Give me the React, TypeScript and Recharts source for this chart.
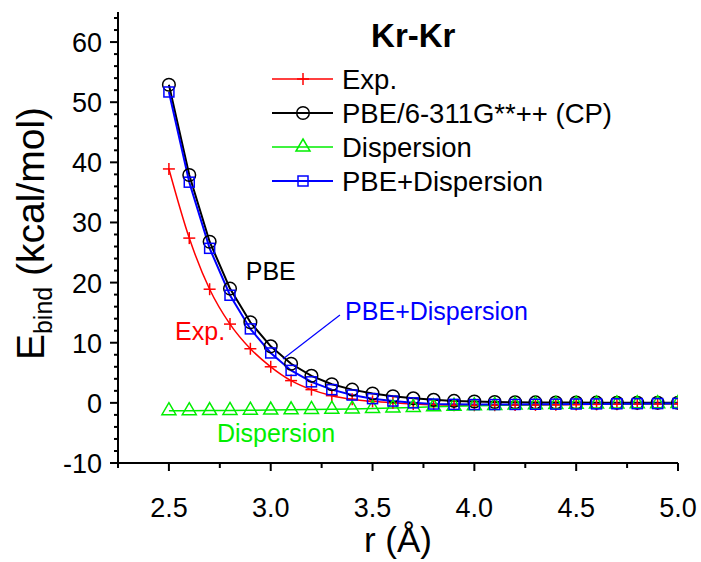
import React from "react";
import { LineChart, Line, XAxis, YAxis, ReferenceDot, ReferenceLine, Legend } from "recharts";

const FONT = "'Liberation Sans', Arial, Helvetica, sans-serif";

// r in Angstrom
const rValues = [2.5, 2.6, 2.7, 2.8, 2.9, 3.0, 3.1, 3.2, 3.3, 3.4, 3.5, 3.6, 3.7, 3.8, 3.9, 4.0, 4.1, 4.2, 4.3, 4.4, 4.5, 4.6, 4.7, 4.8, 4.9, 5.0];

// binding energies, kcal/mol
const expE = [38.9, 27.4, 18.9, 13.1, 9.0, 6.0, 3.7, 2.2, 1.2, 0.6, 0.25, 0.0, -0.2, -0.33, -0.39, -0.4, -0.39, -0.37, -0.34, -0.31, -0.28, -0.25, -0.22, -0.2, -0.18, -0.16];
const pbeE = [52.9, 37.9, 26.8, 19.0, 13.4, 9.4, 6.5, 4.5, 3.1, 2.2, 1.55, 1.1, 0.75, 0.5, 0.33, 0.22, 0.15, 0.1, 0.08, 0.06, 0.05, 0.04, 0.03, 0.03, 0.02, 0.02];
const dispE = [-1.3, -1.3, -1.28, -1.25, -1.22, -1.2, -1.15, -1.1, -1.05, -1.0, -0.92, -0.85, -0.75, -0.65, -0.55, -0.48, -0.42, -0.36, -0.31, -0.27, -0.23, -0.2, -0.17, -0.15, -0.13, -0.11];
const pbeDispE = [51.7, 36.7, 25.7, 17.9, 12.3, 8.3, 5.4, 3.5, 2.2, 1.3, 0.7, 0.3, 0.0, -0.2, -0.25, -0.28, -0.28, -0.26, -0.23, -0.21, -0.19, -0.17, -0.15, -0.13, -0.12, -0.1];

const xMajorTicks = [2.5, 3.0, 3.5, 4.0, 4.5, 5.0];
const xMinorTicks = [2.25, 2.75, 3.25, 3.75, 4.25, 4.75];
const yMajorTicks = [-10, 0, 10, 20, 30, 40, 50, 60];
const yMinorTicks = Array.from({ length: 38 }, (_, i) => -10 + 2 * i).filter((v) => v % 10 !== 0);

const data = rValues.map((r, i) => ({
  r,
  exp: expE[i],
  pbe: pbeE[i],
  disp: dispE[i],
  pbeDisp: pbeDispE[i],
}));

const series = [
  { key: "exp", name: "Exp.", color: "#ff0000", marker: "plus", width: 1.5, curve: "monotone" },
  { key: "pbe", name: "PBE/6-311G**++ (CP)", color: "#000000", marker: "circle", width: 2, curve: "linear" },
  { key: "disp", name: "Dispersion", color: "#00ee00", marker: "triangle", width: 1.5, curve: "linear" },
  { key: "pbeDisp", name: "PBE+Dispersion", color: "#0000ff", marker: "square", width: 2, curve: "linear" },
] as const;

// text annotations, in data units
const notes = [
  { x: 3.7, y: 59.2, text: "Kr-Kr", color: "#000", size: 33, bold: true },
  { x: 3.0, y: 20.4, text: "PBE", color: "#000", size: 25, bold: false },
  { x: 2.653, y: 10.45, text: "Exp.", color: "#ff0000", size: 25, bold: false },
  { x: 3.026, y: -6.5, text: "Dispersion", color: "#00ee00", size: 25, bold: false },
  { x: 3.814, y: 13.78, text: "PBE+Dispersion", color: "#0000ff", size: 25, bold: false },
];

function Marker({ kind, cx, cy, color }: { kind: string; cx: number; cy: number; color: string }) {
  if (kind === "plus") {
    return (
      <g stroke={color} strokeWidth={1.5}>
        <line x1={cx - 6} x2={cx + 6} y1={cy} y2={cy} />
        <line x1={cx} x2={cx} y1={cy - 6} y2={cy + 6} />
      </g>
    );
  }
  if (kind === "circle") {
    return <circle cx={cx} cy={cy} r={6.3} fill="none" stroke={color} strokeWidth={1.5} />;
  }
  if (kind === "triangle") {
    return (
      <path
        d={`M${cx},${cy - 8} L${cx + 7},${cy + 4} L${cx - 7},${cy + 4} Z`}
        fill="none"
        stroke={color}
        strokeWidth={1.5}
      />
    );
  }
  return <rect x={cx - 5} y={cy - 5} width={10} height={10} fill="none" stroke={color} strokeWidth={1.5} />;
}

function makeDot(kind: string, color: string) {
  return (props: any) => {
    const { cx, cy, index } = props;
    if (cx == null || cy == null) return <g key={`d-${kind}-${index}`} />;
    return (
      <g key={`d-${kind}-${index}`}>
        <Marker kind={kind} cx={cx} cy={cy} color={color} />
      </g>
    );
  };
}

function XTick({ x, y, payload }: any) {
  const major = xMajorTicks.includes(payload.value);
  return (
    <g>
      <line x1={x} x2={x} y1={y} y2={y + (major ? 8 : 5)} stroke="#000" strokeWidth={2} />
      {major && (
        <text x={x} y={y + 54} textAnchor="middle" fontSize={27} fontFamily={FONT} fill="#000">
          {payload.value.toFixed(1)}
        </text>
      )}
    </g>
  );
}

function YTick({ x, y, payload }: any) {
  const major = yMajorTicks.includes(payload.value);
  return (
    <g>
      <line x1={x - (major ? 8 : 4)} x2={x} y1={y} y2={y} stroke="#000" strokeWidth={2} />
      {major && (
        <text x={x - 16} y={y + 10} textAnchor="end" fontSize={27} fontFamily={FONT} fill="#000">
          {payload.value}
        </text>
      )}
    </g>
  );
}

function LegendBox() {
  const top = 60;
  const left = 262;
  return (
    <svg width={420} height={140} style={{ overflow: "visible" }}>
      {series.map((s, i) => {
        const cy = 79 + i * 34 - top;
        return (
          <g key={s.key}>
            <line x1={272 - left} x2={333 - left} y1={cy} y2={cy} stroke={s.color} strokeWidth={s.width} />
            <Marker kind={s.marker} cx={303 - left} cy={cy} color={s.color} />
            <text x={342 - left} y={cy + 10} fontSize={27.5} fontFamily={FONT} fill="#000">
              {s.name}
            </text>
          </g>
        );
      })}
    </svg>
  );
}

export default function App() {
  return (
    <div style={{ position: "absolute", left: 0, top: 0, width: 701, height: 562, background: "#fff" }}>
      <LineChart width={701} height={562} data={data} margin={{ top: 12, right: 23, bottom: 0, left: 0 }}>
        <XAxis
          dataKey="r"
          type="number"
          domain={[2.25, 5]}
          ticks={[...xMinorTicks, ...xMajorTicks].sort((a, b) => a - b)}
          interval={0}
          height={99}
          tickSize={0}
          tickMargin={0}
          tickLine={false}
          tick={<XTick />}
          axisLine={{ stroke: "#000", strokeWidth: 2 }}
          allowDataOverflow
          label={{
            content: ({ viewBox }: any) => (
              <text
                x={viewBox.x + viewBox.width / 2}
                y={viewBox.y + 89}
                textAnchor="middle"
                fontSize={35}
                fontFamily={FONT}
                fill="#000"
              >
                r (Å)
              </text>
            ),
          }}
        />
        <YAxis
          type="number"
          domain={[-10, 65]}
          ticks={[...yMinorTicks, ...yMajorTicks].sort((a, b) => a - b)}
          interval={0}
          width={118}
          tickSize={0}
          tickMargin={0}
          tickLine={false}
          tick={<YTick />}
          axisLine={{ stroke: "#000", strokeWidth: 2 }}
          allowDataOverflow
          label={{
            content: ({ viewBox }: any) => {
              const cx = 44;
              const cy = viewBox.y + viewBox.height / 2 - 4;
              return (
                <text
                  x={cx}
                  y={cy}
                  transform={`rotate(-90 ${cx} ${cy})`}
                  textAnchor="middle"
                  fontSize={39}
                  fontFamily={FONT}
                  fill="#000"
                >
                  E
                  <tspan fontSize={25} dy={8}>
                    bind
                  </tspan>
                  <tspan dy={-8}> (kcal/mol)</tspan>
                </text>
              );
            },
          }}
        />
        {series.map((s) => (
          <Line
            key={s.key}
            dataKey={s.key}
            name={s.name}
            type={s.curve}
            stroke={s.color}
            strokeWidth={s.width}
            dot={makeDot(s.marker, s.color)}
            activeDot={false}
            isAnimationActive={false}
          />
        ))}
        <ReferenceLine
          segment={[
            { x: 3.34, y: 14.6 },
            { x: 3.06, y: 7.3 },
          ]}
          stroke="#0000ff"
          strokeWidth={1.2}
        />
        {notes.map((n) => (
          <ReferenceDot
            key={n.text}
            x={n.x}
            y={n.y}
            r={0}
            fill="none"
            stroke="none"
            label={{
              content: ({ viewBox }: any) => (
                <text
                  x={viewBox.x + (viewBox.width || 0) / 2}
                  y={viewBox.y + (viewBox.height || 0) / 2}
                  textAnchor="middle"
                  fontSize={n.size}
                  fontWeight={n.bold ? "bold" : "normal"}
                  fontFamily={FONT}
                  fill={n.color}
                >
                  {n.text}
                </text>
              ),
            }}
          />
        ))}
        <Legend
          layout="vertical"
          align="center"
          verticalAlign="middle"
          wrapperStyle={{ position: "absolute", left: 262, top: 60, width: 420, height: 140 }}
          content={() => <LegendBox />}
        />
      </LineChart>
    </div>
  );
}
